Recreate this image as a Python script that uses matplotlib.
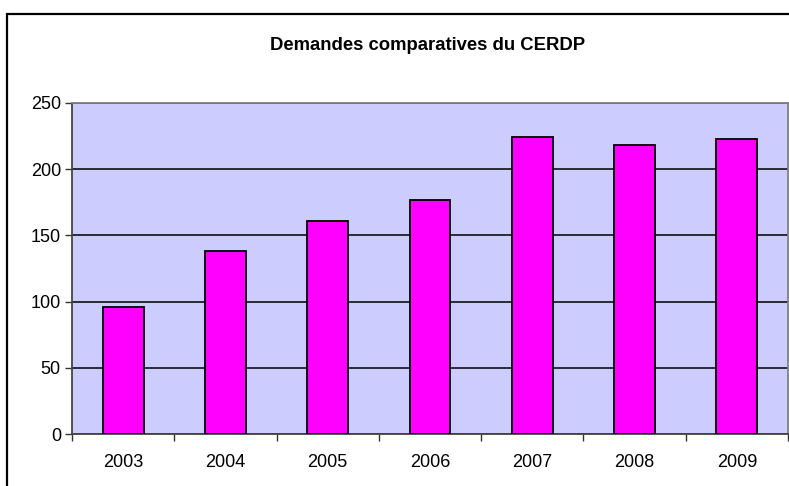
import numpy as np
import matplotlib.pyplot as plt
from matplotlib.patches import Rectangle

plt.rcParams['font.family'] = ['Liberation Sans', 'DejaVu Sans']

# data
years = ['2003', '2004', '2005', '2006', '2007', '2008', '2009']
demandes = [96, 138, 161, 177, 224, 218, 223]
yticks = [0, 50, 100, 150, 200, 250]

fig = plt.figure(figsize=(7.89, 4.86), dpi=100)

# outer chart frame (runs off right and bottom edge like the original)
fig.patches.append(Rectangle((7/789, -0.05), 1.0, (486-14)/486 + 0.05,
                             transform=fig.transFigure, fill=False,
                             edgecolor='black', linewidth=1.6))

ax = fig.add_axes([72/789, (486-434.3)/486, (788-72)/789, (434.3-102.7)/486])
ax.set_facecolor('#CCCCFF')

x = np.arange(len(years))
ax.bar(x, demandes, width=0.4, color='#FF00FF', edgecolor='black',
       linewidth=1.3, zorder=3)

ax.set_xlim(-0.5, len(years) - 0.5)
ax.set_ylim(0, 250)
ax.set_yticks(yticks)
ax.set_yticklabels([str(v) for v in yticks], fontsize=13)

# category labels centred, ticks at the category boundaries
ax.set_xticks(x)
ax.set_xticklabels(years, fontsize=13)
ax.tick_params(axis='x', length=0, pad=14)
ax.set_xticks(np.arange(-0.5, len(years)), minor=True)
ax.tick_params(axis='x', which='minor', length=5, width=1, color='#333333')
ax.tick_params(axis='y', length=5, width=1, color='#333333', pad=3)

ax.yaxis.grid(True, color='black', linewidth=1.1, zorder=1)
ax.set_axisbelow(True)

for s in ['top', 'right']:
    ax.spines[s].set_color('#808080')
    ax.spines[s].set_linewidth(1.3)
ax.spines['left'].set_color('#444444')
ax.spines['left'].set_linewidth(1.3)
ax.spines['bottom'].set_color('#444444')
ax.spines['bottom'].set_linewidth(1.3)

fig.text(428/789, (486-46)/486, 'Demandes comparatives du CERDP',
         ha='center', va='center', fontsize=13.3, fontweight='bold')

fig.savefig('out.png', dpi=100)
